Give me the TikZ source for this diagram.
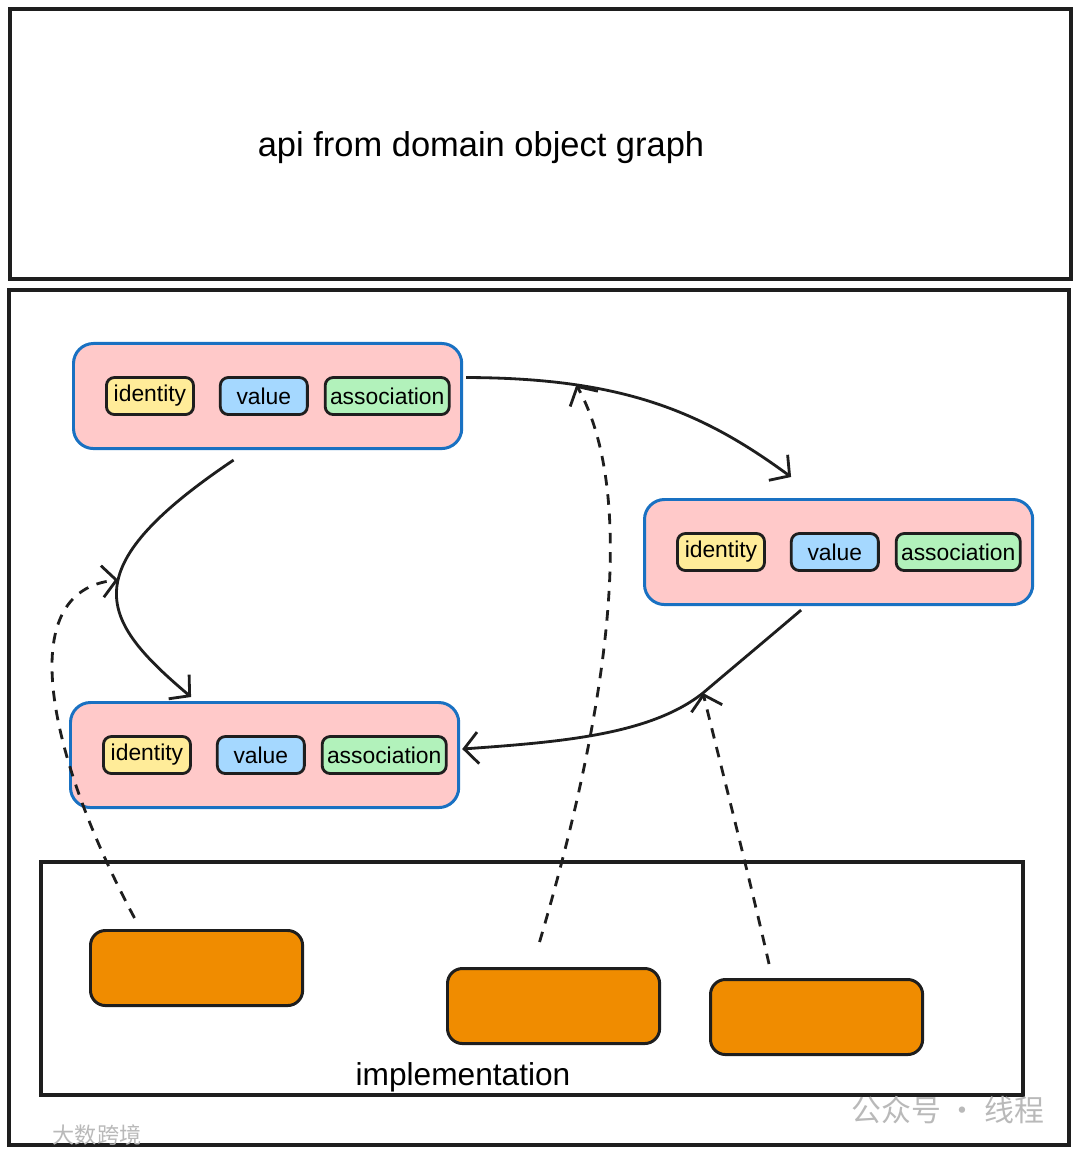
\documentclass[tikz,border=0pt]{standalone}
\usepackage{fontspec}
\setmainfont{Liberation Sans}
\newfontfamily\cjkfont{Noto Sans CJK SC}
\usetikzlibrary{arrows.meta,positioning}

\definecolor{inkblack}{HTML}{1E1E1E}
\definecolor{entitypink}{HTML}{FFC9C9}
\definecolor{entityblue}{HTML}{1971C2}
\definecolor{idyellow}{HTML}{FFEC99}
\definecolor{valblue}{HTML}{A5D8FF}
\definecolor{assocgreen}{HTML}{B2F2BB}
\definecolor{implorange}{HTML}{F08C00}

\tikzset{
  panel/.style={draw=inkblack, line width=0.9pt},
  entity/.style={draw=entityblue, fill=entitypink, line width=0.85pt, rounded corners=2mm,
    minimum width=3.88cm, minimum height=1.05cm, inner sep=0pt, anchor=north west},
  field/.style={draw=inkblack, line width=0.8pt, rounded corners=0.8mm, minimum height=0.37cm,
    inner sep=0pt, font=\fontsize{6.5}{7}\selectfont},
  impl/.style={draw=inkblack, fill=implorange, line width=0.85pt, rounded corners=1.5mm,
    minimum width=2.12cm, minimum height=0.75cm, anchor=north west},
  link/.style={draw=inkblack, line width=0.8pt, -{Straight Barb[length=4pt,width=9pt]}},
  hint/.style={link, dash pattern=on 3pt off 2.5pt},
  watermark/.style={text=gray!55, inner sep=0pt},
}

\begin{document}
\begin{tikzpicture}[x=0.01cm, y=-0.01cm]
    \useasboundingbox (0,0) rectangle (1080,1155);

    % api layer
    \draw[panel] (10,9) rectangle (1071,279);
    \node[font=\fontsize{9.8}{11}\selectfont] (api) at (481,148) {api from domain object graph};
    \draw[panel] (9,290) rectangle (1069,1145);

    % domain objects
    \node[entity] (e1) at (72,342) {};
    \node[entity] (e2) at (643,498) {};
    \node[entity] (e3) at (69,701) {};
    \foreach \e in {1,2,3} {
        \node[field, fill=idyellow, minimum width=0.87cm, right=3.3mm of e\e.west] (id\e) {identity};
        \node[field, fill=valblue, minimum width=0.87cm, right=2.4mm of id\e] (val\e) {value};
        \node[field, fill=assocgreen, minimum width=1.24cm, right=1.5mm of val\e] (as\e) {association};
    }

    % implementation layer
    \draw[panel] (41,862) rectangle (1023,1095);
    \node[font=\fontsize{9}{10}\selectfont] (impllabel) at (463,1077) {implementation};
    \node[impl] (o1) at (89,929) {};
    \node[impl] (o2) at (446,967) {};
    \node[impl] (o3) at (709,978) {};

    % graph edges
    \coordinate (e1out) at ([xshift=0.3mm,yshift=1.85mm]e1.east);
    \coordinate (e2in) at ([xshift=-4.75mm,yshift=2.1mm]e2.north);
    \coordinate (e1down) at ([xshift=-3.4mm,yshift=-1mm]e1.south);
    \coordinate (e3top) at ([xshift=-7.35mm,yshift=0.4mm]e3.north);
    \coordinate (e2out) at ([xshift=-3.75mm,yshift=-0.4mm]e2.south);
    \coordinate (e3in) at ([xshift=0.2mm,yshift=0.6mm]e3.east);
    \coordinate (m2) at (703,693);
    \draw[link] (e1out) .. controls (620,378) and (700,410) .. (e2in) coordinate[pos=0.27] (m3);
    \draw[link] (e1down) .. controls (70,570) and (100,620) .. (e3top) coordinate[pos=0.45] (m1);
    \draw[link] (e2out) .. controls (760,645) and (730,670) .. (m2)
        .. controls (650,735) and (560,742) .. (e3in);

    % implementation links
    \coordinate (t1) at ([xshift=-6.2mm,yshift=1.1mm]o1.north);
    \coordinate (t2) at ([xshift=-1.4mm,yshift=2.5mm]o2.north);
    \coordinate (t3) at ([xshift=-4.75mm,yshift=1.4mm]o3.north);
    \draw[hint] (t1) .. controls (50,760) and (10,590) .. (m1);
    \draw[hint] (t2) .. controls (605,720) and (640,500) .. (m3);
    \draw[hint] (t3) .. controls (750,880) and (722,770) .. (m2);

    % watermarks
    \node[watermark, anchor=east, font=\cjkfont\fontsize{8.5}{9}\selectfont] (wm1) at (1045,1110) {公众号 · 线程};
    \node[watermark, anchor=west, font=\cjkfont\fontsize{6.3}{7}\selectfont] (wm2) at (52,1135) {大数跨境};
\end{tikzpicture}
\end{document}
